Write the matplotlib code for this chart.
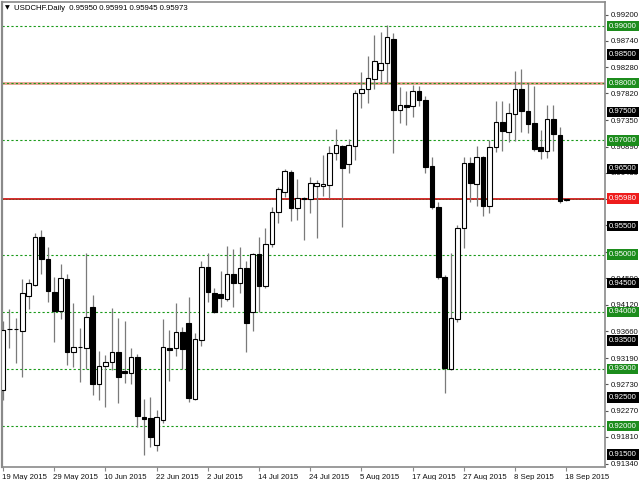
import matplotlib
matplotlib.use("Agg")
import matplotlib.pyplot as plt
import matplotlib.transforms as mtransforms
import numpy as np

plt.rcParams['font.family'] = ['Liberation Sans', 'DejaVu Sans']

# Daily USDCHF candles, 19 May 2015 .. 18 Sep 2015 (89 trading days)
opens = [0.9263, 0.9370, 0.9369, 0.9366, 0.9428, 0.9447, 0.9531, 0.9492, 0.9435, 0.9401,
         0.9457, 0.9330, 0.9338, 0.9337, 0.9408, 0.9274, 0.9305, 0.9312, 0.9330, 0.9296,
         0.9293, 0.9321, 0.9216, 0.9214, 0.9167, 0.9211, 0.9337, 0.9337, 0.9365, 0.9380,
         0.9247, 0.9351, 0.9478, 0.9433, 0.9431, 0.9422, 0.9466, 0.9450, 0.9477, 0.9400,
         0.9501, 0.9445, 0.9519, 0.9575, 0.9610, 0.9645, 0.9582, 0.9599, 0.9597, 0.9620,
         0.9620, 0.9622, 0.9678, 0.9690, 0.9659, 0.9690, 0.9783, 0.9790, 0.9807, 0.9823,
         0.9835, 0.9877, 0.9753, 0.9762, 0.9760, 0.9786, 0.9771, 0.9655, 0.9583, 0.9461,
         0.9300, 0.9387, 0.9547, 0.9660, 0.9624, 0.9671, 0.9585, 0.9688, 0.9732, 0.9715,
         0.9746, 0.9790, 0.9751, 0.9730, 0.9688, 0.9681, 0.9737, 0.9709, 0.95950]
highs = [0.9384, 0.9405, 0.9389, 0.9457, 0.9457, 0.9538, 0.9543, 0.9513, 0.9461, 0.9484,
         0.9466, 0.9415, 0.9372, 0.9503, 0.9429, 0.9331, 0.9324, 0.9407, 0.9389, 0.9384,
         0.9337, 0.9326, 0.9247, 0.9251, 0.9228, 0.9387, 0.9368, 0.9415, 0.9373, 0.9426,
         0.9363, 0.9489, 0.9503, 0.9442, 0.9471, 0.9515, 0.9510, 0.9513, 0.9489, 0.9503,
         0.9531, 0.9547, 0.9583, 0.9618, 0.9650, 0.9648, 0.9632, 0.9601, 0.9636, 0.9631,
         0.9674, 0.9690, 0.9720, 0.9692, 0.9702, 0.9788, 0.9820, 0.9848, 0.9884, 0.9890,
         0.9902, 0.9888, 0.9793, 0.9786, 0.9797, 0.9795, 0.9778, 0.9671, 0.9592, 0.9464,
         0.9503, 0.9552, 0.9671, 0.9671, 0.9690, 0.9673, 0.9701, 0.9769, 0.9769, 0.9765,
         0.9821, 0.9825, 0.9800, 0.9795, 0.9718, 0.9762, 0.9762, 0.9723, 0.95991]
lows = [0.9246, 0.9337, 0.9310, 0.9286, 0.9405, 0.9445, 0.9466, 0.9417, 0.9347, 0.9387,
        0.9307, 0.9303, 0.9277, 0.9300, 0.9254, 0.9246, 0.9233, 0.9298, 0.9240, 0.9275,
        0.9274, 0.9198, 0.9149, 0.9163, 0.9156, 0.9205, 0.9279, 0.9323, 0.9300, 0.9242,
        0.9246, 0.9340, 0.9417, 0.9398, 0.9408, 0.9419, 0.9408, 0.9433, 0.9330, 0.9366,
        0.9400, 0.9442, 0.9513, 0.9555, 0.9601, 0.9559, 0.9561, 0.9526, 0.9573, 0.9529,
        0.9603, 0.9599, 0.9666, 0.9548, 0.9643, 0.9666, 0.9757, 0.9765, 0.9790, 0.9802,
        0.9800, 0.9678, 0.9730, 0.9727, 0.9741, 0.9760, 0.9643, 0.9580, 0.9458, 0.9258,
        0.9298, 0.9382, 0.9512, 0.9592, 0.9585, 0.9568, 0.9573, 0.9680, 0.9681, 0.9697,
        0.9699, 0.9715, 0.9713, 0.9681, 0.9667, 0.9669, 0.9681, 0.9590, 0.95945]
closes = [0.9368, 0.9370, 0.9370, 0.9433, 0.9450, 0.9531, 0.9492, 0.9436, 0.9401, 0.9459,
          0.9330, 0.9338, 0.9338, 0.9391, 0.9274, 0.9305, 0.9312, 0.9330, 0.9286, 0.9293,
          0.9321, 0.9218, 0.9212, 0.9181, 0.9216, 0.9338, 0.9333, 0.9365, 0.9335, 0.9249,
          0.9352, 0.9478, 0.9435, 0.9400, 0.9424, 0.9466, 0.9450, 0.9477, 0.9380, 0.9501,
          0.9445, 0.9519, 0.9575, 0.9615, 0.9646, 0.9582, 0.9599, 0.9597, 0.9625, 0.9625,
          0.9624, 0.9678, 0.9692, 0.9652, 0.9692, 0.9783, 0.9790, 0.9809, 0.9839, 0.9835,
          0.9881, 0.9753, 0.9762, 0.9758, 0.9786, 0.9771, 0.9653, 0.9583, 0.9461, 0.9302,
          0.9389, 0.9547, 0.9660, 0.9625, 0.9671, 0.9585, 0.9688, 0.9732, 0.9716, 0.9748,
          0.9790, 0.9751, 0.9729, 0.9685, 0.9681, 0.9737, 0.9711, 0.9594, 0.95973]

tick_labels = ["19 May 2015", "29 May 2015", "10 Jun 2015", "22 Jun 2015", "2 Jul 2015",
               "14 Jul 2015", "24 Jul 2015", "5 Aug 2015", "17 Aug 2015", "27 Aug 2015",
               "8 Sep 2015", "18 Sep 2015"]
tick_step = 8

price_ticks = [0.99200, 0.98740, 0.98280, 0.97820, 0.97350, 0.96890, 0.96430, 0.95970,
               0.95510, 0.95050, 0.94590, 0.94120, 0.93660, 0.93190, 0.92730, 0.92270,
               0.91810, 0.91340]
green_levels = [0.99, 0.98, 0.97, 0.95, 0.94, 0.93, 0.92]
black_levels = [0.985, 0.975, 0.965, 0.955, 0.945, 0.935, 0.925, 0.915]
salmon_level = 0.98
red_level = 0.9598

title = "USDCHF.Daily  0.95950 0.95991 0.95945 0.95973"

fig = plt.figure(figsize=(6.4, 4.8), dpi=100)
fig.patch.set_facecolor('white')
ax = fig.add_axes([2/640, 1-467/480, 603/640, 465/480])
ax.set_facecolor('white')

n = len(opens)
x = np.arange(n)
o = np.array(opens); h = np.array(highs); l = np.array(lows); c = np.array(closes)

# horizontal levels
for lv in green_levels:
    ax.axhline(lv, color='#1a9a1a', lw=0.8, ls=(0, (2, 2)), zorder=1)
ax.axhline(salmon_level, color='#e8a090', lw=2.0, zorder=0.9)
ax.axhline(red_level, color='#d21a1a', lw=1.3, zorder=0.9)
ax.axhline(red_level, color='#6a4a20', lw=0.6, ls=(0, (2, 2)), zorder=1)

# candles
ax.vlines(x, l, h, color='#7a7a7a', lw=0.9, zorder=2)
up = c >= o
bottom = np.minimum(o, c)
height = np.abs(c - o)
height = np.where(height < 0.00004, 0.00004, height)
ax.bar(x[up], height[up], bottom=bottom[up], width=0.72, color='white',
       edgecolor='black', linewidth=0.8, zorder=3)
ax.bar(x[~up], height[~up], bottom=bottom[~up], width=0.72, color='black',
       edgecolor='black', linewidth=0.8, zorder=3)

ax.set_xlim(-0.16, -0.16 + 603/6.4)
ax.set_ylim(0.91283, 0.99420)

for s in ['left', 'right', 'top', 'bottom']:
    ax.spines[s].set_color('#8a8a8a')
ax.spines['left'].set_linewidth(1.6)
ax.spines['right'].set_linewidth(1.2)
ax.spines['top'].set_linewidth(1.2)
ax.spines['bottom'].set_linewidth(1.2)

# x ticks
tpos = np.arange(0, n, tick_step)[:len(tick_labels)]
ax.set_xticks(tpos)
ax.set_xticklabels(tick_labels, fontsize=5.6, ha='left', color='#111111')
ax.tick_params(axis='x', direction='out', length=3, width=0.8, color='#8a8a8a', pad=2)
for lab in ax.get_xticklabels():
    lab.set_transform(lab.get_transform() + mtransforms.ScaledTranslation(-1/100, 0, fig.dpi_scale_trans))

# y ticks on right
ax.yaxis.tick_right()
ax.set_yticks(price_ticks)
ax.set_yticklabels([f"{v:.5f}" for v in price_ticks], fontsize=5.6, color='#111111')
ax.tick_params(axis='y', direction='out', length=2, width=0.8, color='#555555', pad=2)

trans = mtransforms.blended_transform_factory(ax.transAxes, ax.transData)

def box_label(val, bg):
    ax.text(1.0 + 4/603, val, f"{val:.5f}", transform=trans, fontsize=5.6, color='white',
            ha='left', va='center', zorder=10, clip_on=False,
            bbox=dict(boxstyle='square,pad=0.22', fc=bg, ec=bg, lw=0))

for lv in green_levels:
    box_label(lv, '#1c8c1c')
for lv in black_levels:
    box_label(lv, 'black')
box_label(red_level, '#ee1c1c')

# header
fig.text(5/640, 1-8/480, "\u25BC", fontsize=4.5, color='black', va='center', ha='left',
         family=['DejaVu Sans'])
fig.text(14/640, 1-8/480, title, fontsize=5.6, color='black', va='center', ha='left')

fig.savefig("out.png", dpi=100, facecolor='white')
